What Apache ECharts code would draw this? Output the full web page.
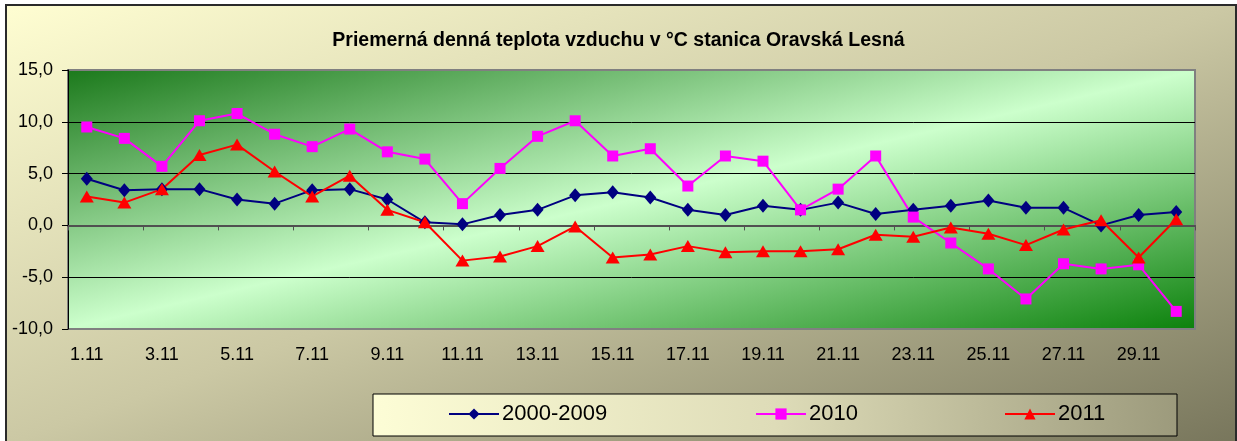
<!DOCTYPE html>
<html>
<head>
<meta charset="utf-8">
<script src="https://cdn.jsdelivr.net/npm/echarts@6/dist/echarts.min.js"></script>
<style>
  html, body { margin: 0; padding: 0; }
  #chart { width: 1237px; height: 441px; }
</style>
</head>
<body>
<div id="chart"></div>
<script>
// dni v novembri
const days = ['1.11', '2.11', '3.11', '4.11', '5.11', '6.11', '7.11', '8.11', '9.11', '10.11',
  '11.11', '12.11', '13.11', '14.11', '15.11', '16.11', '17.11', '18.11', '19.11', '20.11',
  '21.11', '22.11', '23.11', '24.11', '25.11', '26.11', '27.11', '28.11', '29.11', '30.11']
// priemer 2000-2009
const avg0009 = [4.5, 3.4, 3.5, 3.5, 2.5, 2.1, 3.4, 3.5, 2.5, 0.3,
  0.1, 1.0, 1.5, 2.9, 3.2, 2.7, 1.5, 1.0, 1.9, 1.5,
  2.2, 1.1, 1.5, 1.9, 2.4, 1.7, 1.7, 0.0, 1.0, 1.3]
// rok 2010
const y2010 = [9.5, 8.4, 5.7, 10.1, 10.8, 8.8, 7.6, 9.3, 7.1, 6.4,
  2.1, 5.5, 8.6, 10.1, 6.7, 7.4, 3.8, 6.7, 6.2, 1.5,
  3.5, 6.7, 0.8, -1.7, -4.2, -7.1, -3.7, -4.2, -3.8, -8.3]
// rok 2011
const y2011 = [2.8, 2.2, 3.5, 6.8, 7.8, 5.2, 2.8, 4.8, 1.5, 0.3,
  -3.4, -3.0, -2.0, -0.1, -3.1, -2.8, -2.0, -2.6, -2.5, -2.5,
  -2.3, -0.9, -1.1, -0.2, -0.8, -1.9, -0.4, 0.5, -3.1, 0.6]
const seriesNames = ['2000-2009', '2010', '2011']
const yTicks = { min: -10, max: 15, step: 5 }

const font = 'Liberation Sans, Arial, sans-serif'

// diagonal gradient like in Excel (corner to corner in normalized box)
function diagGradient (w, h, stops) {
  const l2 = w * w + h * h
  const dx = h * h / l2
  const dy = w * w / l2
  return new echarts.graphic.LinearGradient(0.5 - dx, 0.5 - dy, 0.5 + dx, 0.5 + dy,
    stops.map((c, i) => ({ offset: i / (stops.length - 1), color: c })))
}

const chart = echarts.init(document.getElementById('chart'))

const option = {
  animation: false,
  title: {
    text: 'Priemerná denná teplota vzduchu v °C stanica Oravská Lesná',
    left: 'center',
    top: 26,
    textStyle: { fontFamily: font, fontSize: 19.5, fontWeight: 'bold', color: '#000' }
  },
  graphic: [
    {
      type: 'rect',
      z: -10,
      shape: { x: 6, y: 5, width: 1230, height: 440 },
      style: {
        fill: diagGradient(1230, 440, ['#fffed2', '#cbc8a4', '#77755b']),
        stroke: '#2a2a2a',
        lineWidth: 2
      }
    },
    {
      type: 'rect',
      z: 1,
      shape: { x: 373, y: 394, width: 804, height: 42 },
      style: {
        fill: new echarts.graphic.LinearGradient(0, 0, 1, 1, [
          { offset: 0, color: '#fdfdd6' },
          { offset: 0.5, color: '#dedcb8' },
          { offset: 1, color: '#9c9a7c' }
        ]),
        stroke: '#000',
        lineWidth: 1
      }
    }
  ],
  legend: [448, 755, 1004].map((x, i) => ({
    data: [seriesNames[i]],
    left: x,
    top: 403,
    padding: 0,
    itemWidth: 50,
    itemHeight: 14,
    itemGap: 5,
    z: 5,
    textStyle: { fontFamily: font, fontSize: 22, color: '#000', padding: [0, 0, 0, -2] }
  })),
  grid: {
    left: 68,
    right: 42,
    top: 70,
    bottom: 112,
    show: true,
    backgroundColor: diagGradient(1127, 259, ['#1a781a', '#ccffcc', '#0a800a']),
    borderColor: '#808080',
    borderWidth: 2
  },
  xAxis: [
    {
      type: 'category',
      data: days,
      axisLine: { onZero: true, lineStyle: { color: '#505050', width: 2 } },
      axisTick: { show: true, interval: 1, length: 5, lineStyle: { color: '#505050' } },
      axisLabel: { show: false },
      splitLine: { show: false }
    },
    {
      type: 'category',
      data: days,
      position: 'bottom',
      axisLine: { show: false },
      axisTick: { show: false },
      axisLabel: { interval: 1, margin: 17, fontFamily: font, fontSize: 18, color: '#000' },
      splitLine: { show: false }
    }
  ],
  yAxis: {
    type: 'value',
    min: yTicks.min,
    max: yTicks.max,
    interval: yTicks.step,
    axisLine: { show: true, lineStyle: { color: '#000', width: 1 } },
    axisTick: { show: true, length: 6, lineStyle: { color: '#000' } },
    axisLabel: {
      margin: 15,
      fontFamily: font,
      fontSize: 18,
      color: '#000',
      formatter: v => v.toFixed(1).replace('.', ',')
    },
    splitLine: { show: true, showMinLine: false, showMaxLine: false, lineStyle: { color: '#000', width: 1 } }
  },
  series: [
    {
      name: seriesNames[0],
      type: 'line',
      data: avg0009,
      symbol: 'diamond',
      symbolSize: [12, 14],
      lineStyle: { color: '#000080', width: 2 },
      itemStyle: { color: '#000080' }
    },
    {
      name: seriesNames[1],
      type: 'line',
      data: y2010,
      symbol: 'rect',
      symbolSize: 11,
      lineStyle: { color: '#ff00ff', width: 2 },
      itemStyle: { color: '#ff00ff' }
    },
    {
      name: seriesNames[2],
      type: 'line',
      data: y2011,
      symbol: 'triangle',
      symbolSize: [14, 12],
      lineStyle: { color: '#ff0000', width: 2 },
      itemStyle: { color: '#ff0000' }
    }
  ]
}

chart.setOption(option)
</script>
</body>
</html>
